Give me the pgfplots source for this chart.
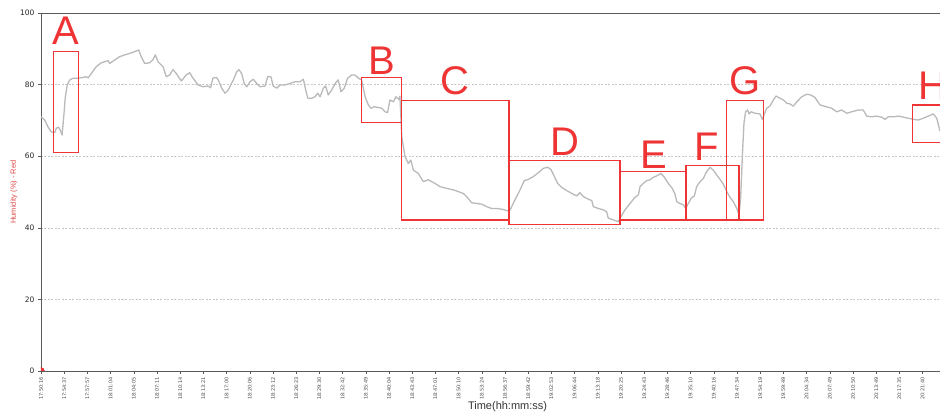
\documentclass[border=0pt]{standalone}
\usepackage{fontspec}
\setmainfont{Liberation Sans}
\newfontfamily\tickfont{DejaVu Sans}
\usepackage{pgfplots}
\usepackage{pgfplotstable}
\pgfplotsset{compat=1.18}

\definecolor{trace}{RGB}{185,185,185}
\definecolor{zone}{RGB}{238,52,52}
\definecolor{axisgray}{RGB}{90,90,90}
\definecolor{ylab}{RGB}{222,72,72}

% relative humidity, one row per logged sample
\pgfplotstableread{
idx rh
0.0 71.0
1.6 70.1
3.0 68.2
4.4 66.8
5.9 66.6
6.6 67.8
7.6 68.1
8.3 67.3
9.1 65.9
9.8 71.0
10.5 76.6
11.3 79.9
12.4 81.3
13.8 81.8
15.9 81.8
18.1 82.0
19.5 82.2
20.3 81.9
21.7 83.1
23.8 85.0
26.0 86.1
27.5 86.4
28.9 86.7
29.6 85.9
31.8 86.9
33.9 87.8
36.1 88.3
38.2 88.7
40.4 89.2
42.1 89.7
43.2 87.8
44.7 85.9
46.9 86.1
48.3 87.0
49.3 88.3
50.4 86.4
52.6 85.0
54.0 82.2
55.5 82.7
56.9 84.2
58.3 83.1
60.5 81.0
62.6 82.7
64.1 83.3
65.5 81.8
67.7 79.9
69.8 79.4
72.0 79.6
73.1 79.1
74.1 81.8
75.6 82.0
76.4 81.3
77.9 79.0
79.3 77.6
80.7 78.5
82.9 81.3
84.4 83.6
85.3 84.2
86.5 83.1
87.6 80.3
88.7 79.4
90.1 80.8
91.5 81.5
93.0 80.3
94.4 79.4
96.6 79.6
97.7 82.2
99.1 82.2
100.1 79.6
101.6 79.0
103.0 79.9
105.2 79.9
107.3 80.3
109.5 80.8
111.6 80.8
113.1 81.5
114.1 78.5
115.0 76.2
116.7 76.2
118.1 76.6
119.3 77.6
120.3 76.6
121.7 79.0
122.7 79.6
123.8 77.1
125.3 78.5
127.0 80.5
128.1 81.3
129.3 78.0
130.7 79.0
132.2 81.8
133.9 82.7
135.3 82.7
136.8 81.8
138.2 81.3
139.7 76.6
141.1 74.3
142.2 73.4
143.7 73.8
145.4 73.6
146.9 73.4
148.3 72.4
149.4 72.2
150.4 75.7
151.9 75.2
153.0 76.6
154.4 75.8
154.7 76.8
155.5 65.4
156.9 59.9
158.3 58.0
159.4 58.9
160.5 56.1
162.6 55.2
164.8 52.9
166.9 53.4
169.8 52.4
172.0 51.5
174.9 51.0
177.7 50.6
179.9 50.1
182.0 49.6
183.5 48.7
185.6 47.0
187.8 46.8
190.0 46.6
192.1 45.9
194.3 45.4
196.4 45.4
199.3 45.1
201.4 44.7
202.2 45.0
204.3 47.8
206.5 50.6
208.3 53.2
210.0 53.5
212.2 54.3
214.4 55.4
216.5 56.6
218.4 56.9
219.8 56.3
221.3 54.3
222.7 52.4
224.4 51.3
226.6 50.4
228.8 49.6
230.9 48.9
232.3 49.8
233.8 48.7
235.9 48.0
237.4 47.6
238.1 45.9
240.2 45.4
242.4 45.0
243.8 44.5
244.5 42.7
246.7 42.2
248.8 41.7
249.6 42.7
251.7 45.0
253.9 46.8
256.0 48.5
257.5 49.2
258.2 51.5
259.6 52.4
261.1 53.2
262.5 53.4
263.9 54.1
265.4 54.5
267.2 55.2
268.7 54.1
270.4 52.4
272.1 51.0
273.3 49.4
274.0 47.3
275.4 46.8
276.9 46.4
277.9 45.4
279.0 46.8
280.2 48.2
281.6 48.9
282.6 51.5
284.1 52.9
285.5 53.8
286.9 55.7
288.4 56.9
289.8 56.1
291.3 54.7
292.7 53.5
294.1 52.2
295.6 50.1
297.0 48.5
298.4 47.3
299.9 45.4
300.9 43.6
301.6 48.7
302.3 59.9
303.0 69.2
303.7 72.4
304.6 72.9
305.2 71.8
306.0 72.4
307.8 72.0
309.9 71.8
310.9 70.3
311.8 71.8
312.8 73.4
314.2 74.0
315.7 75.7
316.8 76.8
318.5 76.2
320.0 75.7
321.4 74.8
322.8 74.6
324.3 74.0
325.8 75.2
327.9 76.6
330.0 77.3
331.8 77.1
333.6 76.4
335.8 74.3
338.6 73.8
340.8 73.4
343.0 72.4
345.1 72.9
347.3 72.0
349.4 72.4
352.3 72.9
354.4 72.9
355.9 71.2
358.0 71.0
360.2 71.2
362.3 70.9
363.8 70.3
365.2 71.0
367.4 71.0
369.5 71.2
371.7 70.9
373.8 70.6
376.0 70.3
378.1 70.1
380.3 70.6
382.4 71.2
384.6 71.8
386.1 70.6
387.2 67.8
387.5 67.0
}\humidity

\begin{document}
\begin{tikzpicture}
\begin{axis}[
  name=main,
  at={(0,0)}, anchor=south west,
  scale only axis, width=899pt, height=358pt,
  xmin=0, xmax=387.5, ymin=0, ymax=100,
  axis x line*=bottom, axis y line*=left,
  axis line style={axisgray, line width=0.8pt},
  xtick={0,10,...,380},
  xticklabels={17:50:16,17:54:37,17:57:57,18:01:04,18:04:05,18:07:11,18:10:14,18:13:21,18:17:00,18:20:06,18:23:12,18:26:23,18:29:30,18:32:42,18:35:49,18:40:04,18:43:43,18:47:01,18:50:10,18:53:24,18:56:37,18:59:42,19:02:53,19:06:44,19:13:18,19:20:25,19:24:43,19:28:46,19:35:10,19:40:16,19:47:34,19:54:19,19:59:49,20:04:34,20:07:49,20:10:50,20:13:49,20:17:35,20:21:40},
  ytick={0,20,...,100},
  tick align=outside, major tick length=3pt,
  tick style={axisgray, line width=0.5pt},
  ymajorgrids,
  major grid style={dash pattern=on 2pt off 1.5pt, black!22, line width=0.5pt},
  /pgf/number format/assume math mode=true,
  xticklabel style={font=\tickfont\fontsize{5}{5}\selectfont, rotate=90, anchor=east, text=black!70},
  yticklabel style={font=\tickfont\fontsize{7.5}{7.5}\selectfont, text=black!85},
  xlabel={Time(hh:mm:ss)},
  xlabel style={at={(axis description cs:0.519,-0.1)}, anchor=center, font=\fontsize{11}{11}\selectfont, text=black!80},
  ylabel={Humidity (\%) - Red},
  ylabel style={at={(axis description cs:-0.030,0.5)}, anchor=center, font=\fontsize{7.5}{7.5}\selectfont, text=ylab},
  clip marker paths=true,
]
\addplot[trace, line width=1.3pt, line join=round] table[x=idx, y=rh] {\humidity};
\addplot[only marks, mark=*, mark size=3.5pt, color=zone] coordinates {(0,0)};

% marked episodes
\begin{scope}[zone, line width=1.2pt]
\draw (axis cs:5.3,61.0) rectangle (axis cs:16.1,89.2);
\draw (axis cs:138.2,69.4) rectangle (axis cs:155.5,81.9);
\draw (axis cs:155.5,42.2) rectangle (axis cs:201.7,75.5);
\draw (axis cs:201.7,40.9) rectangle (axis cs:249.6,58.7);
\draw (axis cs:249.9,42.2) rectangle (axis cs:278.0,55.7);
\draw (axis cs:278.0,42.2) rectangle (axis cs:300.9,57.5);
\draw (axis cs:295.6,42.2) rectangle (axis cs:311.3,75.5);
\draw (axis cs:375.6,63.8) rectangle (axis cs:388.5,74.3);
\end{scope}
\begin{scope}[every node/.style={text=zone, font=\fontsize{40}{40}\selectfont, anchor=base, inner sep=0pt}]
\node at (axis cs:10.8,91.1) {A};
\node at (axis cs:147.0,82.7) {B};
\node at (axis cs:178.4,77.1) {C};
\node at (axis cs:225.9,60.3) {D};
\node at (axis cs:264.2,56.7) {E};
\node at (axis cs:287.1,58.9) {F};
\node at (axis cs:303.4,77.1) {G};
\node at (axis cs:384.5,75.7) {H};
\end{scope}
\end{axis}
\draw[axisgray, line width=0.8pt] (main.north west) -- (main.north east);
\pgfresetboundingbox
\path[use as bounding box] (-41pt,-43pt) rectangle (899pt,371pt);
\end{tikzpicture}
\end{document}
